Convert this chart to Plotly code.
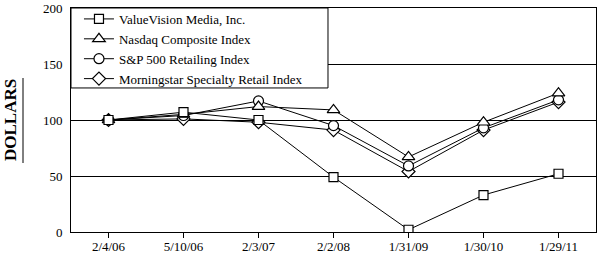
import plotly.graph_objects as go

dates = ["2/4/06", "5/10/06", "2/3/07", "2/2/08", "1/31/09", "1/30/10", "1/29/11"]
valuevision = [100, 107, 100, 49, 2, 33, 52]
nasdaq = [100, 105, 112, 109, 67, 98, 124]
sp500_retail = [100, 104, 117, 95, 59, 93, 118]
morningstar = [100, 101, 98, 91, 54, 91, 116]
y_ticks = [0, 50, 100, 150, 200]

FONT = "Liberation Serif"

series = [
    ("Morningstar Specialty Retail Index", morningstar, "diamond", 10, 4),
    ("S&P 500 Retailing Index", sp500_retail, "circle", 10, 3),
    ("Nasdaq Composite Index", nasdaq, "triangle-up", 11, 2),
    ("ValueVision Media, Inc.", valuevision, "square", 9, 1),
]

fig = go.Figure()
for name, vals, sym, size, rank in series:
    fig.add_trace(go.Scatter(
        x=dates, y=vals, name=name, mode="lines+markers",
        line=dict(color="black", width=1),
        marker=dict(symbol=sym, size=size, color="white",
                    line=dict(color="black", width=1.2)),
        legendrank=rank,
    ))

fig.update_layout(
    width=597, height=255,
    margin=dict(l=71, r=1, t=8, b=23),
    paper_bgcolor="white", plot_bgcolor="white",
    font=dict(family=FONT, size=13, color="black"),
    showlegend=True,
    legend=dict(x=0.0152, y=1.018, xanchor="left", yanchor="top",
                bgcolor="rgba(0,0,0,0)", borderwidth=0,
                font=dict(family=FONT, size=13, color="black"),
                tracegroupgap=0),
    xaxis=dict(type="category", range=[-0.5, 6.5], showgrid=False,
               showline=True, linecolor="black", linewidth=1, mirror=True,
               ticks="outside", ticklen=5, tickcolor="black",
               tickfont=dict(family=FONT, size=13), zeroline=False,
               ticklabelstandoff=-3, automargin=False),
    yaxis=dict(range=[0, 200], tickvals=y_ticks, showgrid=True,
               gridcolor="black", gridwidth=1,
               showline=True, linecolor="black", linewidth=1, mirror=True,
               ticks="", tickfont=dict(family=FONT, size=13),
               ticklabelstandoff=5, automargin=False,
               zeroline=False, fixedrange=True),
    annotations=[dict(
        text="<b>DOLLARS</b>", textangle=-90, xref="paper", yref="paper",
        x=-0.1152, y=0.498, xanchor="center", yanchor="middle", showarrow=False,
        font=dict(family=FONT, size=17, color="black"))],
    shapes=[
        dict(type="line", xref="paper", yref="paper",
             x0=-0.0914, x1=-0.0914, y0=0.308, y1=0.6875,
             line=dict(color="black", width=1)),
        dict(type="rect", xref="paper", yref="paper", layer="above",
             x0=0, x1=0.4895, y0=0.643, y1=1,
             fillcolor="white", line=dict(color="black", width=1)),
    ],
)

fig.write_html("out.html")
